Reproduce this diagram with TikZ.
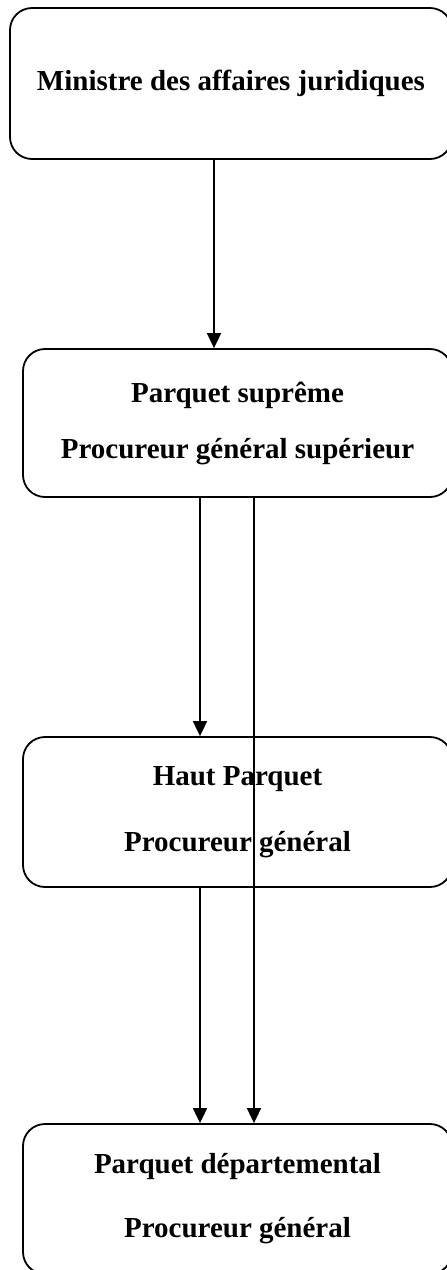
\documentclass[tikz,border=0pt]{standalone}
\usepackage{fontspec}
\setmainfont{Liberation Serif}
\usetikzlibrary{positioning, arrows.meta}

\begin{document}
\begin{tikzpicture}[x=1pt, y=-1pt, >={Triangle[width=14pt,length=15pt]}, on grid, line width=1.8pt,
		box/.style={draw, rounded corners=22pt, minimum width=429pt, align=center, font=\bfseries\fontsize{29}{34}\selectfont} ]
			\useasboundingbox (0,0) rectangle (447,1270);
			\clip (0,0) rectangle (447,1270);
			\node[box, minimum width=442pt, minimum height=151pt]	(A) at (231,83.5)	{Ministre des affaires juridiques};
			\node[box, minimum height=148pt]	(B) [below=339.5pt of A, xshift=6.5pt]	{Parquet suprême\\[22pt]Procureur général supérieur};
			\node[box, minimum height=150pt]	(C) [below=389pt of B]	{Haut Parquet\\[32pt]Procureur général};
			\node[box, minimum height=150pt]	(D) [below=387pt of C]	{Parquet départemental\\[30pt]Procureur général};
			
			%Liens:
			\draw[->] ([xshift=-17pt]A.south) -- ([xshift=-23.5pt]B.north);
			\draw[->] ([xshift=-37.5pt]B.south) -- ([xshift=-37.5pt]C.north);
			\draw[->] ([xshift=16.5pt]B.south) -- ([xshift=16.5pt]D.north);
			\draw[->] ([xshift=-37.5pt]C.south) -- ([xshift=-37.5pt]D.north);
		\end{tikzpicture}
\end{document}
